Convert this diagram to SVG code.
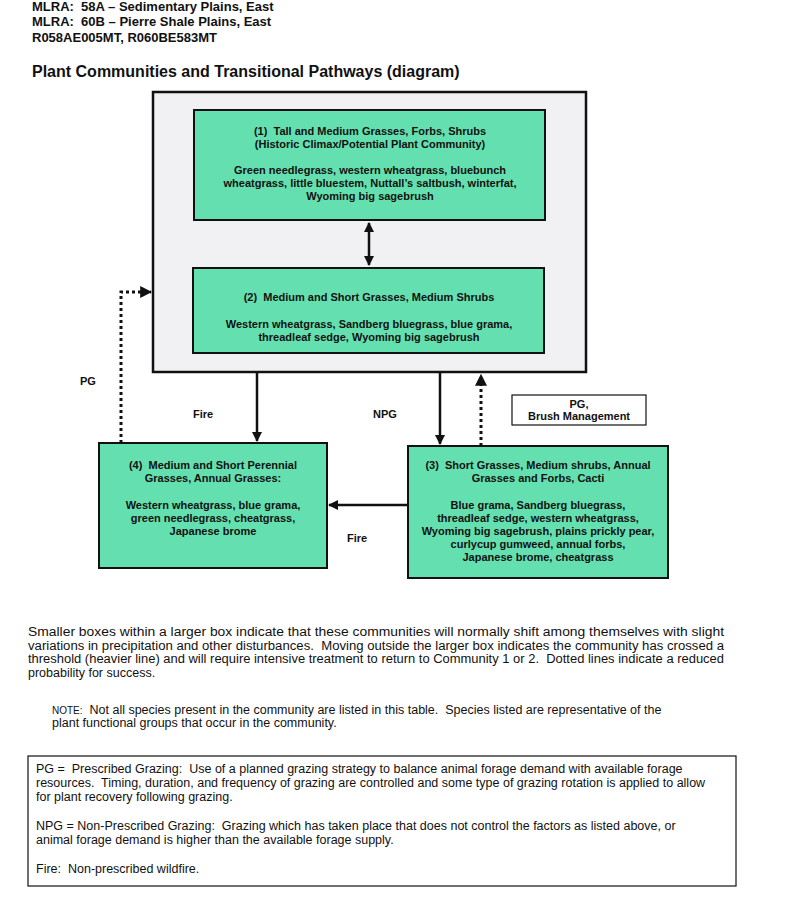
<svg xmlns="http://www.w3.org/2000/svg" width="800" height="907" viewBox="0 0 800 907">
<defs>
<style>
.h{font-family:"Liberation Sans",Arial,sans-serif;font-weight:bold;font-size:13px;fill:#111}
.t{font-family:"Liberation Sans",Arial,sans-serif;font-weight:bold;font-size:16px;fill:#111}
.b{font-family:"Liberation Sans",Arial,sans-serif;font-weight:bold;font-size:11px;fill:#111;text-anchor:middle}
.l{font-family:"Liberation Sans",Arial,sans-serif;font-weight:bold;font-size:11px;fill:#111}
.p{font-family:"Liberation Sans Narrow","Liberation Sans",Arial,sans-serif;font-size:12.5px;fill:#111}
.g{fill:#64e0b0;stroke:#111;stroke-width:2}
.solid{stroke:#111;stroke-width:2.5;fill:none}
.dot{stroke:#111;stroke-width:3;fill:none;stroke-dasharray:3 3}
</style>
<marker id="ah" viewBox="0 0 10 10" refX="9" refY="5" markerWidth="4" markerHeight="4" orient="auto-start-reverse"><path d="M0,0 L10,5 L0,10 z" fill="#111"/></marker>
</defs>
<rect width="800" height="907" fill="#fff"/>
<g id="header">
<text class="h" x="32" y="11">MLRA:&#160; 58A – Sedimentary Plains, East</text>
<text class="h" x="32" y="26">MLRA:&#160; 60B – Pierre Shale Plains, East</text>
<text class="h" x="32" y="42">R058AE005MT, R060BE583MT</text>
<text class="t" x="32" y="77">Plant Communities and Transitional Pathways (diagram)</text>
</g>
<g id="large-box"><rect x="153" y="92" width="433" height="280" fill="#f1f1f3" stroke="#111" stroke-width="2.5"/></g>
<g id="community-1">
<rect class="g" x="194" y="110" width="351" height="110"/>
<text class="b" x="370" y="135">(1)&#160; Tall and Medium Grasses, Forbs, Shrubs</text>
<text class="b" x="370" y="148">(Historic Climax/Potential Plant Community)</text>
<text class="b" x="370" y="174">Green needlegrass, western wheatgrass, bluebunch</text>
<text class="b" x="370" y="187">wheatgrass, little bluestem, Nuttall’s saltbush, winterfat,</text>
<text class="b" x="370" y="200">Wyoming big sagebrush</text>
</g>
<g id="community-2">
<rect class="g" x="193" y="268" width="351" height="85"/>
<text class="b" x="369" y="301">(2)&#160; Medium and Short Grasses, Medium Shrubs</text>
<text class="b" x="369" y="328">Western wheatgrass, Sandberg bluegrass, blue grama,</text>
<text class="b" x="369" y="341">threadleaf sedge, Wyoming big sagebrush</text>
</g>
<g id="community-4">
<rect class="g" x="99" y="443" width="228" height="125"/>
<text class="b" x="213" y="469">(4)&#160; Medium and Short Perennial</text>
<text class="b" x="213" y="482">Grasses, Annual Grasses:</text>
<text class="b" x="213" y="509">Western wheatgrass, blue grama,</text>
<text class="b" x="213" y="522">green needlegrass, cheatgrass,</text>
<text class="b" x="213" y="535">Japanese brome</text>
</g>
<g id="community-3">
<rect class="g" x="408" y="446" width="260" height="132"/>
<text class="b" x="538" y="469">(3)&#160; Short Grasses, Medium shrubs, Annual</text>
<text class="b" x="538" y="482">Grasses and Forbs, Cacti</text>
<text class="b" x="538" y="509">Blue grama, Sandberg bluegrass,</text>
<text class="b" x="538" y="522">threadleaf sedge, western wheatgrass,</text>
<text class="b" x="538" y="535">Wyoming big sagebrush, plains prickly pear,</text>
<text class="b" x="538" y="548">curlycup gumweed, annual forbs,</text>
<text class="b" x="538" y="561">Japanese brome, cheatgrass</text>
</g>
<g id="pg-brush-label">
<rect x="512" y="395" width="134" height="30" fill="#fff" stroke="#111" stroke-width="1.2"/>
<text class="b" x="579" y="408">PG,</text>
<text class="b" x="579" y="420">Brush Management</text>
</g>
<g id="connectors">
<line class="solid" x1="369" y1="223" x2="369" y2="265" marker-start="url(#ah)" marker-end="url(#ah)"/>
<line class="solid" x1="257" y1="372" x2="257" y2="441" marker-end="url(#ah)"/>
<line class="solid" x1="440" y1="372" x2="440" y2="444" marker-end="url(#ah)"/>
<line class="dot" x1="481" y1="446" x2="481" y2="375" marker-end="url(#ah)"/>
<polyline class="dot" points="121,443 121,292 151,292" marker-end="url(#ah)"/>
<line class="solid" x1="408" y1="505" x2="329" y2="505" marker-end="url(#ah)"/>
<text class="l" x="80" y="385">PG</text>
<text class="l" x="193" y="418">Fire</text>
<text class="l" x="373" y="418">NPG</text>
<text class="l" x="347" y="542">Fire</text>
</g>
<g id="notes">
<text class="p" x="28" y="636" textLength="696" lengthAdjust="spacingAndGlyphs">Smaller boxes within a larger box indicate that these communities will normally shift among themselves with slight</text>
<text class="p" x="28" y="649.5" textLength="696" lengthAdjust="spacingAndGlyphs">variations in precipitation and other disturbances.&#160; Moving outside the larger box indicates the community has crossed a</text>
<text class="p" x="28" y="663" textLength="696" lengthAdjust="spacingAndGlyphs">threshold (heavier line) and will require intensive treatment to return to Community 1 or 2.&#160; Dotted lines indicate a reduced</text>
<text class="p" x="28" y="676.5">probability for success.</text>
<text class="p" x="52" y="714"><tspan font-size="10">NOTE:</tspan>&#160; Not all species present in the community are listed in this table.&#160; Species listed are representative of the</text>
<text class="p" x="52" y="727">plant functional groups that occur in the community.</text>
</g>
<g id="legend">
<rect x="28" y="756" width="708" height="130" fill="#fff" stroke="#111" stroke-width="1.2"/>
<text class="p" x="36" y="773">PG =&#160; Prescribed Grazing:&#160; Use of a planned grazing strategy to balance animal forage demand with available forage</text>
<text class="p" x="36" y="787">resources.&#160; Timing, duration, and frequency of grazing are controlled and some type of grazing rotation is applied to allow</text>
<text class="p" x="36" y="801">for plant recovery following grazing.</text>
<text class="p" x="36" y="830">NPG = Non-Prescribed Grazing:&#160; Grazing which has taken place that does not control the factors as listed above, or</text>
<text class="p" x="36" y="844">animal forage demand is higher than the available forage supply.</text>
<text class="p" x="36" y="873">Fire:&#160; Non-prescribed wildfire.</text>
</g>
</svg>
